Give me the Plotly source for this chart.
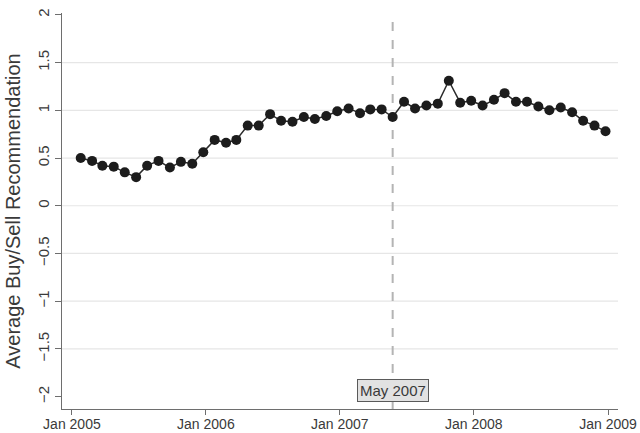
import pandas as pd
import plotly.graph_objects as go

# Monthly average analyst recommendation, Jan 2005 - Dec 2008
months = pd.date_range("2005-01-01", periods=48, freq="MS") + pd.Timedelta(days=24)
avg_rec = [
    0.50, 0.47, 0.42, 0.41, 0.35, 0.30, 0.42, 0.47, 0.40, 0.46, 0.44, 0.56,
    0.69, 0.66, 0.69, 0.84, 0.84, 0.96, 0.89, 0.88, 0.93, 0.91, 0.94, 0.99,
    1.02, 0.97, 1.01, 1.01, 0.93, 1.09, 1.02, 1.05, 1.07, 1.31, 1.08, 1.10,
    1.05, 1.11, 1.18, 1.09, 1.09, 1.04, 1.00, 1.03, 0.98, 0.89, 0.84, 0.78,
]

event_date = months[28]          # May 2007
event_label = "May 2007"

y_ticks = [-2, -1.5, -1, -0.5, 0, 0.5, 1, 1.5, 2]
y_tick_text = ["\u22122", "\u22121.5", "\u22121", "\u22120.5", "0", "0.5", "1", "1.5", "2"]
x_ticks = pd.to_datetime(["2005-01-01", "2006-01-01", "2007-01-01", "2008-01-01", "2009-01-01"])
x_tick_text = ["Jan 2005", "Jan 2006", "Jan 2007", "Jan 2008", "Jan 2009"]

FONT = "Liberation Sans, Arial, Helvetica, sans-serif"
TEXT = "#3a3a3a"
AXIS = "#6e6e6e"

fig = go.Figure()

# horizontal gridlines at the interior ticks only
for yv in y_ticks[1:-1]:
    fig.add_shape(type="line", xref="paper", yref="y", x0=0, x1=1, y0=yv, y1=yv,
                  line=dict(color="#e6e6e6", width=1.2), layer="below")

# event marker
fig.add_shape(type="line", xref="x", yref="paper", x0=event_date, x1=event_date, y0=0, y1=1,
              line=dict(color="#b4b4b4", width=2, dash="dash"), layer="below")

fig.add_trace(go.Scatter(
    x=months, y=avg_rec, mode="lines+markers",
    line=dict(color="#2b2b2b", width=1.5),
    marker=dict(color="#1c1c1c", size=10),
    showlegend=False,
))

fig.add_annotation(
    x=event_date, y=-1.94, xref="x", yref="y", text=event_label, showarrow=False,
    font=dict(family=FONT, size=15, color=TEXT),
    bgcolor="#e2e2e2", bordercolor="#5a5a5a", borderwidth=1, borderpad=2,
)

fig.update_layout(
    width=640, height=433,
    margin=dict(l=62, r=22, t=13, b=24),
    paper_bgcolor="white", plot_bgcolor="white",
    font=dict(family=FONT, color=TEXT),
    xaxis=dict(
        range=[pd.Timestamp("2004-12-05"), pd.Timestamp("2009-01-28")],
        tickvals=x_ticks, ticktext=x_tick_text, automargin=False,
        showgrid=False, zeroline=False,
        showline=True, linecolor=AXIS, linewidth=1.2,
        ticks="outside", ticklen=5, tickcolor=AXIS, tickwidth=1.2,
        tickfont=dict(size=14, color=TEXT), ticklabelstandoff=-3,
    ),
    yaxis=dict(
        range=[-2.13, 2.02], automargin=False,
        tickvals=y_ticks, ticktext=y_tick_text, tickangle=-90,
        showgrid=False, zeroline=False,
        showline=True, linecolor=AXIS, linewidth=1.2,
        ticks="outside", ticklen=6, tickcolor=AXIS, tickwidth=1.2,
        tickfont=dict(size=15, color=TEXT),
        title=dict(text="Average Buy/Sell Recommendation", font=dict(size=20, color=TEXT), standoff=8),
    ),
)

fig.write_html("out.html")
